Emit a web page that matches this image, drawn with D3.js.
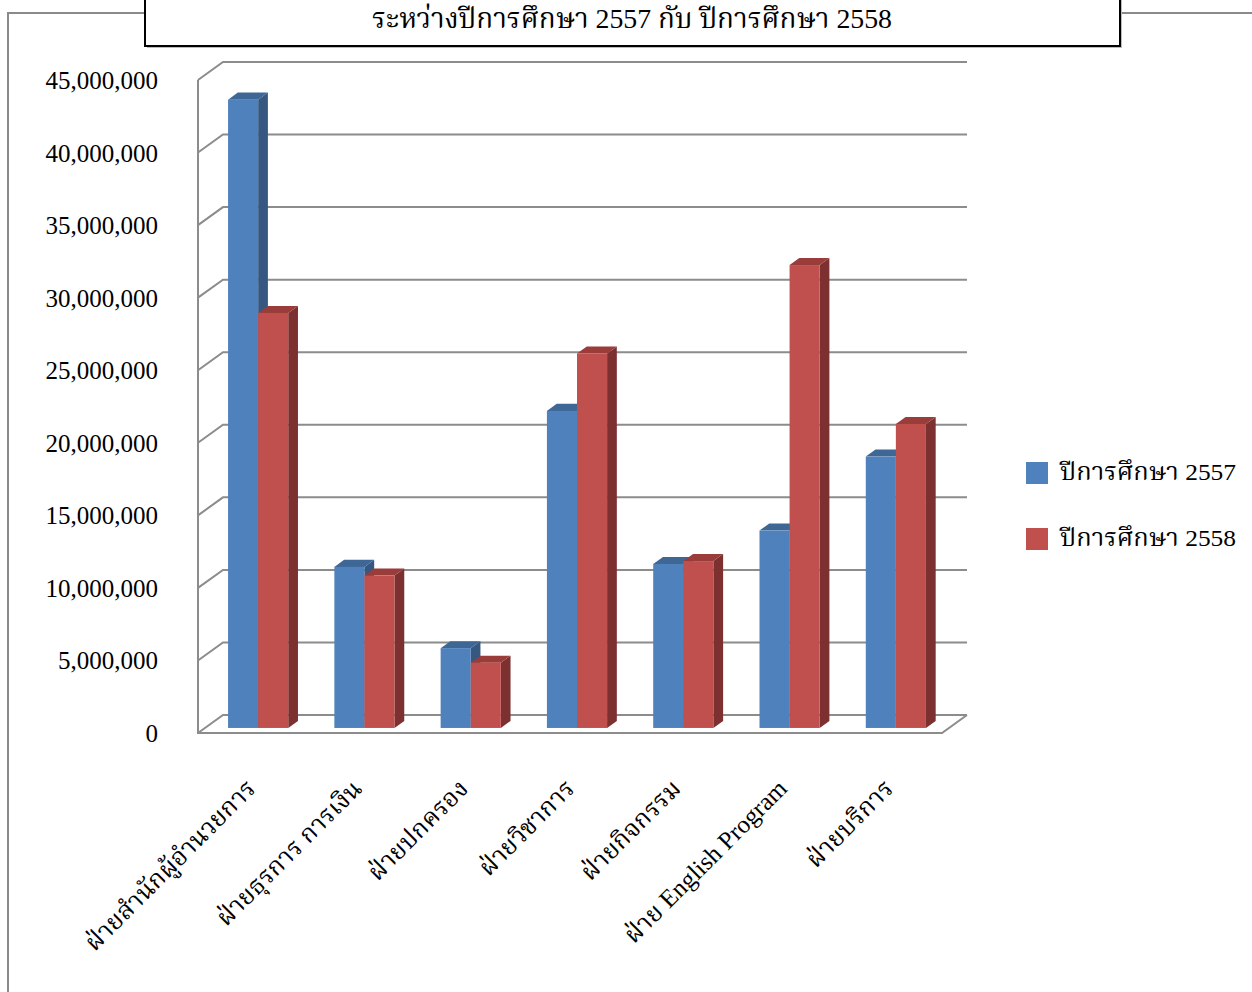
<!DOCTYPE html>
<html>
<head>
<meta charset="utf-8">
<script src="https://cdn.jsdelivr.net/npm/d3@7"></script>
<style>
body { margin: 0; background: #fff; }
svg { display: block; }
.thai { font-family: "Liberation Serif", "Noto Serif Thai", "Noto Sans Thai", serif; }
.num { font-family: "Liberation Serif", "Times New Roman", serif; }
</style>
</head>
<body>
<svg width="1252" height="992"></svg>
<script>
// data
var categories = ["ฝ่ายสำนักผู้อำนวยการ", "ฝ่ายธุรการ การเงิน", "ฝ่ายปกครอง", "ฝ่ายวิชาการ",
  "ฝ่ายกิจกรรม", "ฝ่าย English Program", "ฝ่ายบริการ"];
var seriesNames = ["ปีการศึกษา 2557", "ปีการศึกษา 2558"];
var values2557 = [43300000, 11100000, 5500000, 21850000, 11300000, 13600000, 18700000];
var values2558 = [28600000, 10500000, 4500000, 25800000, 11500000, 31900000, 20950000];
var yTicks = [0, 5000000, 10000000, 15000000, 20000000, 25000000, 30000000, 35000000, 40000000, 45000000];
var titleText = "ระหว่างปีการศึกษา 2557 กับ ปีการศึกษา 2558";

var colors = [
  {front: "#4F81BD", side: "#36577F", top: "#3E6796"},
  {front: "#C0504D", side: "#7C3130", top: "#9A3D3A"}
];

var svg = d3.select("svg");

// 3d projection: depth t from 0 (front) to 1 (back)
var depthX = 25, depthY = -18;
var x = d3.scaleBand().domain(categories).range([198, 942]);
var y = d3.scaleLinear().domain([0, 45000000]).range([733, 80]);
function px(xv, t) { return xv + depthX * t; }
function py(v, t) { return y(v) + depthY * t; }

var gridColor = "#8C8C8C";

// outer chart border
svg.append("path")
  .attr("d", "M8,992 L8,13 L145,13 M1120,13 L1252,13")
  .attr("fill", "none").attr("stroke", "#8a8a8a").attr("stroke-width", 2);

// walls and gridlines
var grid = svg.append("g");
yTicks.forEach(function(v) {
  grid.append("path")
    .attr("d", "M" + px(198, 0) + "," + py(v, 0) + " L" + px(198, 1) + "," + py(v, 1) +
      " L" + px(942, 1) + "," + py(v, 1))
    .attr("fill", "none").attr("stroke", gridColor).attr("stroke-width", 2);
});
// left axis and floor
grid.append("path")
  .attr("d", "M198," + y(45000000) + " L198," + y(0) + " L942," + y(0) +
    " L" + px(942, 1) + "," + py(0, 1))
  .attr("fill", "none").attr("stroke", gridColor).attr("stroke-width", 2);

// y labels
svg.append("g").selectAll("text")
  .data(yTicks)
  .enter().append("text")
  .attr("class", "num")
  .attr("x", 158)
  .attr("y", function(d) { return y(d) + 9; })
  .attr("text-anchor", "end")
  .attr("font-size", 25)
  .attr("fill", "#000")
  .text(function(d) { return d3.format(",")(d); });

// bars
var tf = 0.28, tb = 0.67;
var barW = x.bandwidth() * 0.283;
var bars = svg.append("g");
categories.forEach(function(c, i) {
  [values2557[i], values2558[i]].forEach(function(v, s) {
    var x0 = x(c) + x.bandwidth() / 2 - barW + s * barW;
    var x1 = x0 + barW;
    var col = colors[s];
    // side
    bars.append("path")
      .attr("d", "M" + px(x1, tf) + "," + py(0, tf) + " L" + px(x1, tb) + "," + py(0, tb) +
        " L" + px(x1, tb) + "," + py(v, tb) + " L" + px(x1, tf) + "," + py(v, tf) + "Z")
      .attr("fill", col.side);
    // top
    bars.append("path")
      .attr("d", "M" + px(x0, tf) + "," + py(v, tf) + " L" + px(x1, tf) + "," + py(v, tf) +
        " L" + px(x1, tb) + "," + py(v, tb) + " L" + px(x0, tb) + "," + py(v, tb) + "Z")
      .attr("fill", col.top);
    // front
    bars.append("rect")
      .attr("x", px(x0, tf))
      .attr("y", py(v, tf))
      .attr("width", barW)
      .attr("height", py(0, tf) - py(v, tf))
      .attr("fill", col.front);
  });
});

// x labels
svg.append("g").selectAll("text")
  .data(categories)
  .enter().append("text")
  .attr("class", "thai")
  .attr("font-size", 25)
  .attr("text-anchor", "end")
  .attr("transform", function(d) {
    return "translate(" + (x(d) + x.bandwidth() / 2 + 6) + ",790) rotate(-45)";
  })
  .text(function(d) { return d; });

// title box
svg.append("rect").attr("x", 147).attr("y", -4).attr("width", 975).attr("height", 52)
  .attr("fill", "#bbb");
svg.append("rect").attr("x", 145).attr("y", -4).attr("width", 975).attr("height", 50)
  .attr("fill", "#fff").attr("stroke", "#000").attr("stroke-width", 2);
svg.append("text")
  .attr("class", "thai")
  .attr("x", 632).attr("y", 28)
  .attr("text-anchor", "middle")
  .attr("font-size", 28)
  .attr("textLength", 520)
  .attr("lengthAdjust", "spacingAndGlyphs")
  .text(titleText);

// legend
var legend = svg.append("g").selectAll("g")
  .data(seriesNames)
  .enter().append("g")
  .attr("transform", function(d, i) { return "translate(1026," + (462 + i * 66) + ")"; });
legend.append("rect").attr("width", 22).attr("height", 22)
  .attr("fill", function(d, i) { return colors[i].front; });
legend.append("text")
  .attr("class", "thai")
  .attr("x", 34).attr("y", 18)
  .attr("font-size", 24)
  .attr("textLength", 176)
  .attr("lengthAdjust", "spacingAndGlyphs")
  .text(function(d) { return d; });
</script>
</body>
</html>
